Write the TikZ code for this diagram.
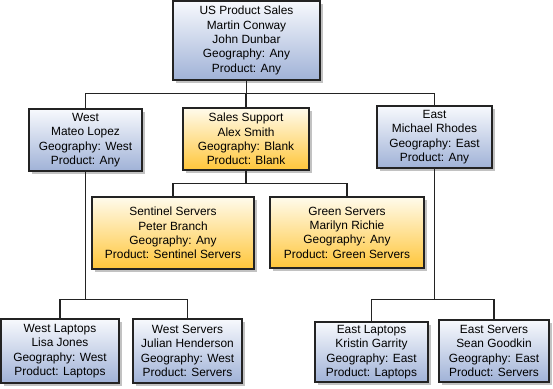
\documentclass[tikz,border=0pt]{standalone}
\usepackage{fontspec}
\setmainfont{Liberation Sans}
\usepackage{tikz}
\usetikzlibrary{shadows}
\definecolor{paleblue}{RGB}{247,249,253}
\definecolor{steelblue}{RGB}{160,178,215}
\definecolor{cream}{RGB}{255,251,236}
\definecolor{amber}{RGB}{255,198,58}
\definecolor{edge}{RGB}{35,35,35}

\begin{document}
\begin{tikzpicture}[x=1pt, y=-1pt,
  unit/.style={rectangle, draw=edge, line width=1.2pt, align=center, inner sep=2pt,
    font=\fontsize{11.9}{14.3}\selectfont,
    drop shadow={shadow xshift=3pt, shadow yshift=-3pt, fill=black!40, opacity=0.6}},
  region/.style={unit, top color=paleblue, bottom color=steelblue},
  support/.style={unit, top color=cream, bottom color=amber},
  link/.style={draw=edge, line width=1.3pt}
]
\useasboundingbox (0,0) rectangle (553,388);

\node[region, minimum width=147pt, minimum height=79pt] (us) at (246.5,40.5) {US Product Sales\\Martin Conway\\John Dunbar\\Geography: Any\\Product: Any};
\node[region, minimum width=113pt, minimum height=62pt] (west) at (85.5,140) {West\\Mateo Lopez\\Geography: West\\Product: Any};
\node[support, minimum width=126pt, minimum height=62pt] (sales) at (246,139) {Sales Support\\Alex Smith\\Geography: Blank\\Product: Blank};
\node[region, minimum width=115pt, minimum height=62pt] (east) at (434.5,137) {East\\Michael Rhodes\\Geography: East\\Product: Any};
\node[support, minimum width=162pt, minimum height=72pt] (sentinel) at (173,233) {Sentinel Servers\\Peter Branch\\Geography: Any\\Product: Sentinel Servers};
\node[support, minimum width=154pt, minimum height=71pt] (green) at (347,232.5) {Green Servers\\Marilyn Richie\\Geography: Any\\Product: Green Servers};
\node[region, minimum width=118pt, minimum height=64pt] (wlaptops) at (60,351) {West Laptops\\Lisa Jones\\Geography: West\\Product: Laptops};
\node[region, minimum width=109pt, minimum height=64pt] (wservers) at (187.5,351) {West Servers\\Julian Henderson\\Geography: West\\Product: Servers};
\node[region, minimum width=113pt, minimum height=60pt] (elaptops) at (371.5,352) {East Laptops\\Kristin Garrity\\Geography: East\\Product: Laptops};
\node[region, minimum width=110pt, minimum height=62pt] (eservers) at (494,351) {East Servers\\Sean Goodkin\\Geography: East\\Product: Servers};

\draw[link] (us.south) -- ++(0,13) -| (west.north);
\draw[link] (us.south) -- ++(0,13) -| (sales.north);
\draw[link] (us.south) -- ++(0,13) -| (east.north);
\draw[link] (sales.south) -- ++(0,13) -| (sentinel.north);
\draw[link] (sales.south) -- ++(0,13) -| (green.north);
\draw[link] (west.south) -- ++(0,128) -| (wlaptops.north);
\draw[link] (west.south) -- ++(0,128) -| (wservers.north);
\draw[link] (east.south) -- ++(0,131) -| (elaptops.north);
\draw[link] (east.south) -- ++(0,131) -| (eservers.north);
\end{tikzpicture}
\end{document}
